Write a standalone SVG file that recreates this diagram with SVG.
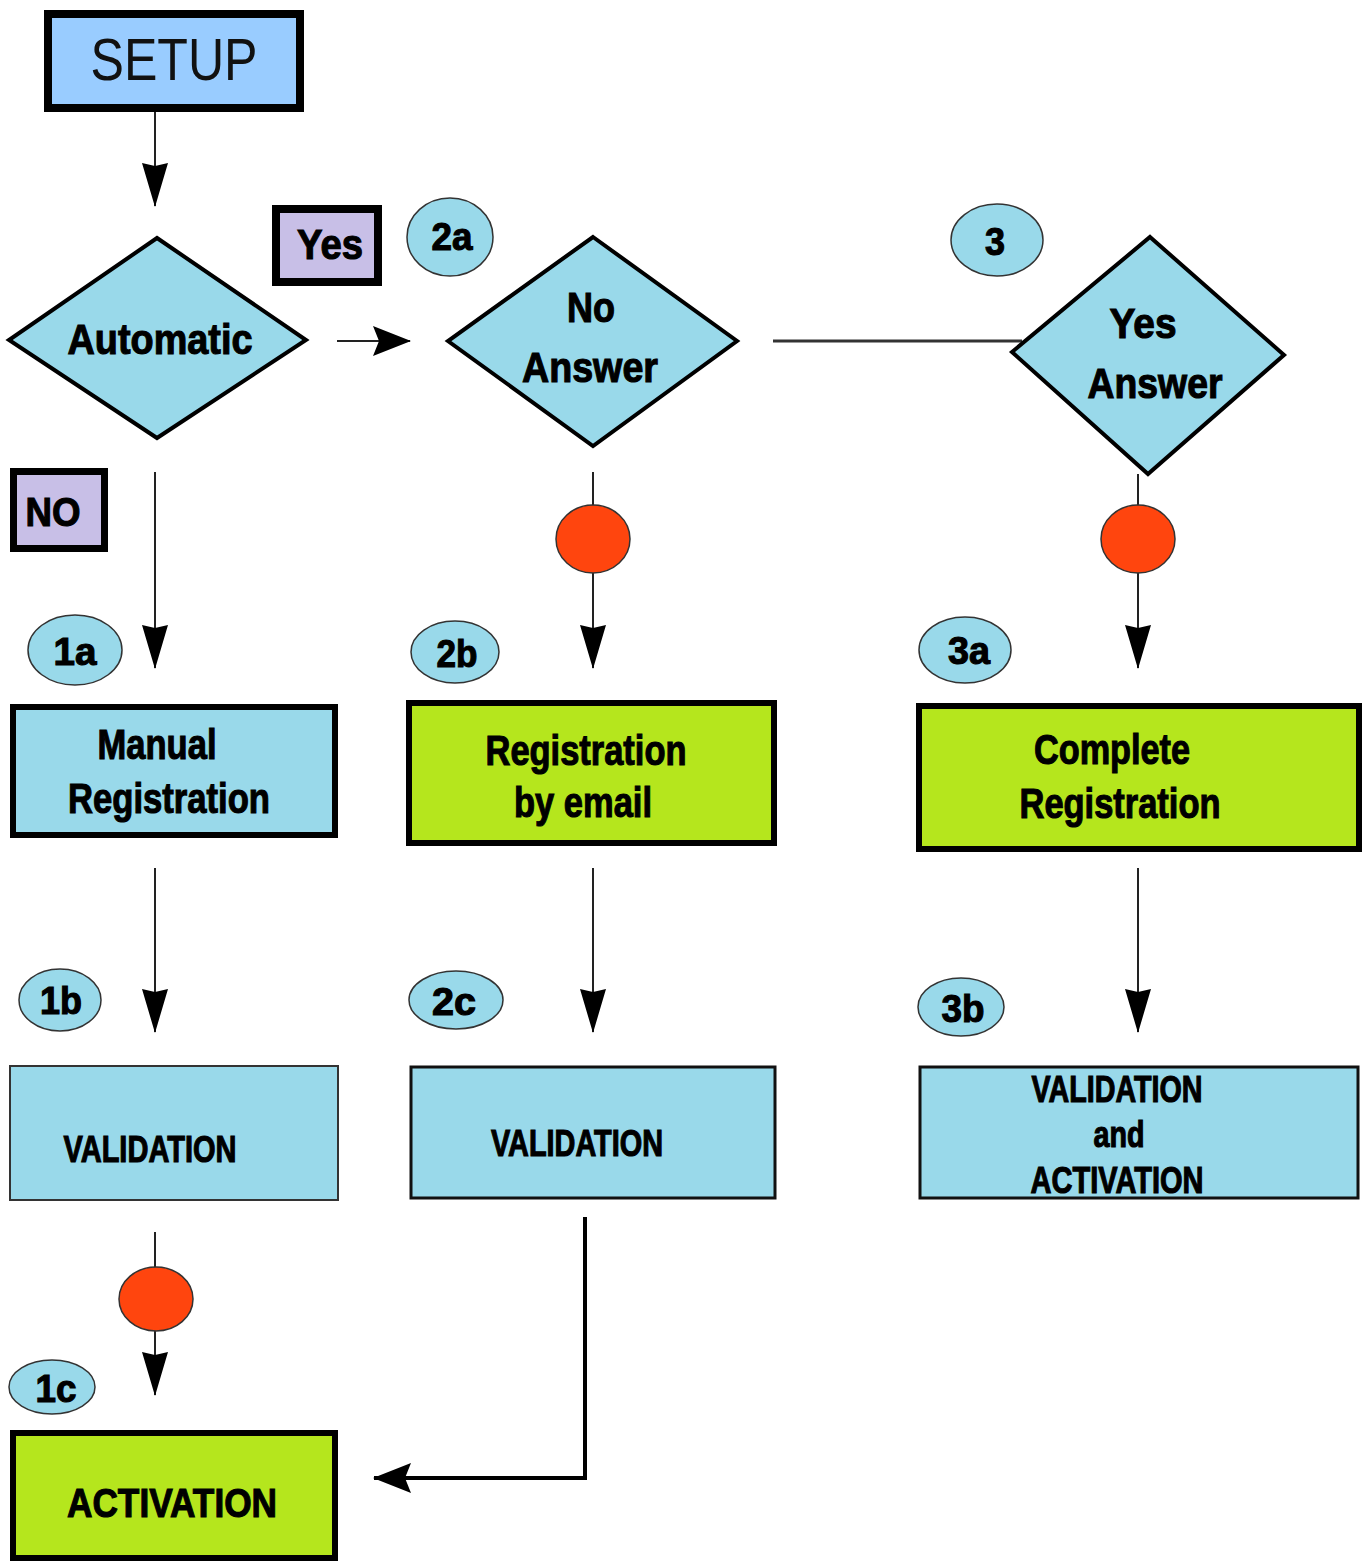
<svg xmlns="http://www.w3.org/2000/svg" width="1367" height="1562" viewBox="0 0 1367 1562">
<style>
.t{font-family:"Liberation Sans",Arial,sans-serif;font-weight:bold;fill:#000;stroke:#000;stroke-width:1.1;text-anchor:middle}
.cy{fill:#99D9EA}
.lime{fill:#B5E61D}
.thick{stroke:#000;stroke-width:6}
.dia{fill:#99D9EA;stroke:#000;stroke-width:4;stroke-linejoin:miter}
.ell{fill:#99D9EA;stroke:#333;stroke-width:1.5}
.red{fill:#FF450E;stroke:#333;stroke-width:1.5}
.ln{stroke:#222;stroke-width:2;fill:none}
</style>
<defs>
<marker id="ah" markerUnits="userSpaceOnUse" viewBox="0 0 44 26" refX="43" refY="13" markerWidth="44" markerHeight="26" orient="auto">
<path d="M0,0 L44,13 L0,26 L3,13 z" fill="#000"/>
</marker>
<marker id="ah2" markerUnits="userSpaceOnUse" viewBox="0 0 38 30" refX="37" refY="15" markerWidth="38" markerHeight="30" orient="auto">
<path d="M0,0 L38,15 L0,30 L6,15 z" fill="#000"/>
</marker>
</defs>

<g id="connectors">
<line class="ln" x1="155" y1="112" x2="155" y2="206" marker-end="url(#ah)"/>
<line class="ln" x1="337" y1="341" x2="410" y2="341" stroke-width="4" marker-end="url(#ah2)"/>
<line x1="773" y1="341" x2="1022" y2="341" stroke="#333" stroke-width="3"/>
<line class="ln" x1="155" y1="472" x2="155" y2="668" marker-end="url(#ah)"/>
<line class="ln" x1="593" y1="472" x2="593" y2="668" marker-end="url(#ah)"/>
<line class="ln" x1="1138" y1="474" x2="1138" y2="668" marker-end="url(#ah)"/>
<line class="ln" x1="155" y1="868" x2="155" y2="1032" marker-end="url(#ah)"/>
<line class="ln" x1="593" y1="868" x2="593" y2="1032" marker-end="url(#ah)"/>
<line class="ln" x1="1138" y1="868" x2="1138" y2="1032" marker-end="url(#ah)"/>
<line class="ln" x1="155" y1="1232" x2="155" y2="1395" marker-end="url(#ah)"/>
<path d="M585,1217 L585,1478 L374,1478" stroke="#000" stroke-width="4" fill="none" marker-end="url(#ah2)"/>
</g>

<g id="setup">
<rect x="48" y="14" width="252" height="94" fill="#99CCFF" stroke="#000" stroke-width="8"/>
<text x="174" y="80" font-family="Liberation Sans, Arial, sans-serif" font-size="60" text-anchor="middle" textLength="167" lengthAdjust="spacingAndGlyphs" fill="#111">SETUP</text>
</g>

<g id="automatic">
<polygon class="dia" points="157,238 306,340 157,438 9,340"/>
<text class="t" x="160" y="354" font-size="42" textLength="185" lengthAdjust="spacingAndGlyphs">Automatic</text>
</g>

<g id="yes-label">
<rect x="276" y="209" width="102" height="73" fill="#C8BFE7" stroke="#000" stroke-width="8"/>
<text class="t" x="330" y="259" font-size="42" textLength="66" lengthAdjust="spacingAndGlyphs">Yes</text>
</g>

<g id="no-label">
<rect x="13.5" y="471.5" width="91" height="77" fill="#C8BFE7" stroke="#000" stroke-width="7"/>
<text class="t" x="53" y="526" font-size="40" textLength="55" lengthAdjust="spacingAndGlyphs">NO</text>
</g>

<g id="b2a"><ellipse class="ell" cx="450" cy="237" rx="43" ry="39"/><text class="t" x="452" y="250" font-size="38" textLength="41" lengthAdjust="spacingAndGlyphs">2a</text></g>
<g id="b3"><ellipse class="ell" cx="997" cy="240" rx="46" ry="36"/><text class="t" x="995" y="255" font-size="38" textLength="20" lengthAdjust="spacingAndGlyphs">3</text></g>

<g id="no-answer">
<polygon class="dia" points="593,237 737,341 593,446 448,341"/>
<text class="t" x="591" y="322" font-size="42" textLength="48" lengthAdjust="spacingAndGlyphs">No</text>
<text class="t" x="590" y="382" font-size="42" textLength="136" lengthAdjust="spacingAndGlyphs">Answer</text>
</g>

<g id="yes-answer">
<polygon class="dia" points="1150,237 1284,355 1148,474 1012,352"/>
<text class="t" x="1143" y="338" font-size="42" textLength="67" lengthAdjust="spacingAndGlyphs">Yes</text>
<text class="t" x="1155" y="398" font-size="42" textLength="135" lengthAdjust="spacingAndGlyphs">Answer</text>
</g>

<g id="dot2"><ellipse class="red" cx="593" cy="539" rx="37" ry="34"/></g>
<g id="dot3"><ellipse class="red" cx="1138" cy="539" rx="37" ry="34"/></g>

<g id="b1a"><ellipse class="ell" cx="75" cy="650" rx="47" ry="35"/><text class="t" x="75" y="665" font-size="38" textLength="43" lengthAdjust="spacingAndGlyphs">1a</text></g>
<g id="b2b"><ellipse class="ell" cx="455" cy="652" rx="44" ry="31"/><text class="t" x="457" y="667" font-size="38" textLength="41" lengthAdjust="spacingAndGlyphs">2b</text></g>
<g id="b3a"><ellipse class="ell" cx="965" cy="650" rx="46" ry="33"/><text class="t" x="969" y="664" font-size="38" textLength="42" lengthAdjust="spacingAndGlyphs">3a</text></g>

<g id="manual">
<rect class="cy thick" x="13" y="707" width="322" height="128"/>
<text class="t" x="157" y="759" font-size="42" textLength="119" lengthAdjust="spacingAndGlyphs">Manual</text>
<text class="t" x="169" y="813" font-size="42" textLength="202" lengthAdjust="spacingAndGlyphs">Registration</text>
</g>

<g id="email">
<rect class="lime thick" x="409" y="703" width="365" height="140"/>
<text class="t" x="586" y="765" font-size="42" textLength="201" lengthAdjust="spacingAndGlyphs">Registration</text>
<text class="t" x="583" y="817" font-size="42" textLength="138" lengthAdjust="spacingAndGlyphs">by email</text>
</g>

<g id="complete">
<rect class="lime thick" x="919" y="706" width="440" height="143"/>
<text class="t" x="1112" y="764" font-size="42" textLength="156" lengthAdjust="spacingAndGlyphs">Complete</text>
<text class="t" x="1120" y="818" font-size="42" textLength="201" lengthAdjust="spacingAndGlyphs">Registration</text>
</g>

<g id="b1b"><ellipse class="ell" cx="60" cy="1000" rx="41" ry="31"/><text class="t" x="61" y="1014" font-size="38" textLength="42" lengthAdjust="spacingAndGlyphs">1b</text></g>
<g id="b2c"><ellipse class="ell" cx="456" cy="1000" rx="47" ry="29"/><text class="t" x="454" y="1015" font-size="38" textLength="44" lengthAdjust="spacingAndGlyphs">2c</text></g>
<g id="b3b"><ellipse class="ell" cx="961" cy="1007" rx="43" ry="29"/><text class="t" x="963" y="1022" font-size="38" textLength="43" lengthAdjust="spacingAndGlyphs">3b</text></g>

<g id="validation1">
<rect class="cy" x="10" y="1066" width="328" height="134" stroke="#333" stroke-width="2"/>
<text class="t" x="150" y="1162" font-size="36" textLength="173" lengthAdjust="spacingAndGlyphs">VALIDATION</text>
</g>

<g id="validation2">
<rect class="cy" x="411" y="1067" width="364" height="131" stroke="#111" stroke-width="3"/>
<text class="t" x="577" y="1156" font-size="36" textLength="172" lengthAdjust="spacingAndGlyphs">VALIDATION</text>
</g>

<g id="validation3">
<rect class="cy" x="920" y="1067" width="438" height="131" stroke="#111" stroke-width="3"/>
<text class="t" x="1117" y="1102" font-size="36" textLength="171" lengthAdjust="spacingAndGlyphs">VALIDATION</text>
<text class="t" x="1119" y="1147" font-size="36" textLength="51" lengthAdjust="spacingAndGlyphs">and</text>
<text class="t" x="1117" y="1193" font-size="36" textLength="173" lengthAdjust="spacingAndGlyphs">ACTIVATION</text>
</g>

<g id="dot1"><ellipse class="red" cx="156" cy="1299" rx="37" ry="32"/></g>

<g id="b1c"><ellipse class="ell" cx="52" cy="1387" rx="43" ry="27"/><text class="t" x="56" y="1402" font-size="38" textLength="41" lengthAdjust="spacingAndGlyphs">1c</text></g>

<g id="activation">
<rect class="lime thick" x="13" y="1433" width="322" height="125"/>
<text class="t" x="172" y="1517" font-size="40" textLength="210" lengthAdjust="spacingAndGlyphs">ACTIVATION</text>
</g>
</svg>
